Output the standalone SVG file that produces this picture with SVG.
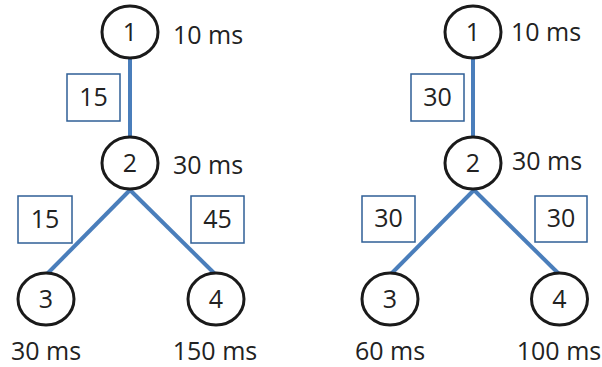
<svg xmlns="http://www.w3.org/2000/svg" width="602" height="367" viewBox="0 0 602 367">
<style>
.n{fill:#fff;stroke:#1a1a1a;stroke-width:3}
.b{fill:#fff;stroke:#2f5f96;stroke-width:1.5}
.e{stroke:#4a7ebb;stroke-width:4;fill:none}
text{font-family:"Open Sans","Liberation Sans",sans-serif;font-size:25px;fill:#222}
.c{text-anchor:middle}
</style>
<rect width="602" height="367" fill="#fff"/>
<g id="connectors">
<line class="e" x1="130" y1="57" x2="130" y2="137"/>
<line class="e" x1="130" y1="190" x2="47" y2="274"/>
<line class="e" x1="130" y1="190" x2="215" y2="274"/>
<line class="e" x1="473" y1="57" x2="473" y2="137"/>
<line class="e" x1="474" y1="190" x2="391" y2="274"/>
<line class="e" x1="474" y1="190" x2="559" y2="274"/>
</g>
<g id="L1"><ellipse class="n" cx="130" cy="32" rx="28" ry="26"/><text class="c" x="130" y="41">1</text><text x="173" y="44">10 ms</text></g>
<g id="L2"><ellipse class="n" cx="130" cy="163" rx="28" ry="26"/><text class="c" x="130" y="172">2</text><text x="173" y="174">30 ms</text></g>
<g id="L3"><ellipse class="n" cx="46" cy="299" rx="28" ry="26"/><text class="c" x="46" y="308">3</text><text class="c" x="46" y="360">30 ms</text></g>
<g id="L4"><ellipse class="n" cx="216" cy="299" rx="28" ry="26"/><text class="c" x="216" y="308">4</text><text class="c" x="215" y="360">150 ms</text></g>
<g id="Lw12"><rect class="b" x="67" y="74" width="53" height="47"/><text class="c" x="93.5" y="106">15</text></g>
<g id="Lw23"><rect class="b" x="18" y="196" width="54" height="47"/><text class="c" x="45" y="228">15</text></g>
<g id="Lw24"><rect class="b" x="191" y="196" width="53" height="47"/><text class="c" x="217.5" y="228">45</text></g>
<g id="R1"><ellipse class="n" cx="473" cy="32" rx="28" ry="26"/><text class="c" x="473" y="41">1</text><text x="511" y="41">10 ms</text></g>
<g id="R2"><ellipse class="n" cx="473" cy="163" rx="28" ry="26"/><text class="c" x="473" y="172">2</text><text x="512" y="170">30 ms</text></g>
<g id="R3"><ellipse class="n" cx="390" cy="299" rx="28" ry="26"/><text class="c" x="390" y="308">3</text><text class="c" x="390" y="360">60 ms</text></g>
<g id="R4"><ellipse class="n" cx="559.5" cy="299" rx="28" ry="26"/><text class="c" x="559.5" y="308">4</text><text class="c" x="559" y="360">100 ms</text></g>
<g id="Rw12"><rect class="b" x="411" y="74" width="53" height="47"/><text class="c" x="437.5" y="106">30</text></g>
<g id="Rw23"><rect class="b" x="362" y="196" width="53" height="46"/><text class="c" x="388.5" y="227">30</text></g>
<g id="Rw24"><rect class="b" x="535" y="196" width="52" height="46"/><text class="c" x="561" y="227">30</text></g>
</svg>
